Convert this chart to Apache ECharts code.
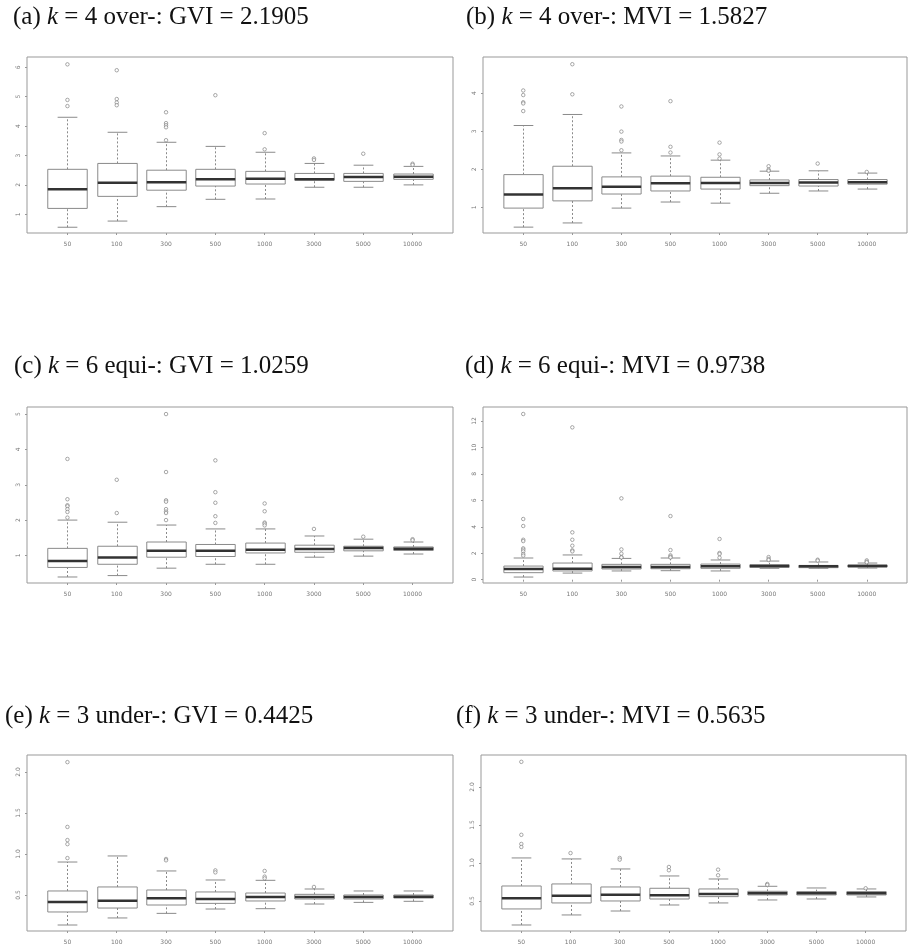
<!DOCTYPE html>
<html>
<head>
<meta charset="utf-8">
<script src="https://cdn.jsdelivr.net/npm/echarts@6/dist/echarts.min.js"></script>
<style>
  html, body { margin: 0; padding: 0; background: #fff; }
  #chart { width: 914px; height: 950px; }
</style>
</head>
<body>
<div id="chart"></div>
<script>
// sample sizes on the x axis
var sizes = ['50', '100', '300', '500', '1000', '3000', '5000', '10000'];

// box stats per size: [lower whisker, Q1, median, Q3, upper whisker]
var gviOverStats = [
  [0.56, 1.20, 1.85, 2.53, 4.30], [0.77, 1.61, 2.07, 2.73, 3.79], [1.26, 1.82, 2.09, 2.50, 3.45], [1.51, 1.96, 2.19, 2.53, 3.31],
  [1.52, 2.03, 2.21, 2.46, 3.11], [1.92, 2.16, 2.19, 2.39, 2.73], [1.92, 2.12, 2.27, 2.39, 2.67], [2.00, 2.19, 2.28, 2.37, 2.63]
];
var gviOverOut = [[6.10, 4.89, 4.68], [5.90, 4.92, 4.80, 4.71], [4.47, 4.10, 4.03, 3.96, 3.52], [5.05], [3.76, 3.21], [2.90, 2.85], [3.06], [2.72, 2.68]];

var mviOverStats = [
  [0.48, 0.98, 1.34, 1.86, 3.15], [0.59, 1.17, 1.50, 2.08, 3.44], [0.98, 1.35, 1.54, 1.80, 2.43], [1.14, 1.43, 1.63, 1.82, 2.35],
  [1.11, 1.48, 1.64, 1.79, 2.24], [1.37, 1.57, 1.64, 1.72, 1.95], [1.43, 1.56, 1.65, 1.73, 1.96], [1.48, 1.61, 1.66, 1.73, 1.90]
];
var mviOverOut = [[4.07, 3.95, 3.76, 3.73, 3.53], [4.76, 3.97], [3.65, 2.99, 2.77, 2.73, 2.50], [3.79, 2.59, 2.44], [2.70, 2.39, 2.28], [2.08, 1.99, 1.96], [2.15], [1.93]];

var gviEquiStats = [
  [0.39, 0.66, 0.84, 1.20, 2.00], [0.43, 0.75, 0.94, 1.26, 1.94], [0.64, 0.95, 1.13, 1.38, 1.86], [0.75, 0.97, 1.13, 1.31, 1.75],
  [0.75, 1.07, 1.16, 1.35, 1.75], [0.95, 1.09, 1.18, 1.29, 1.55], [0.98, 1.13, 1.21, 1.26, 1.46], [1.04, 1.14, 1.19, 1.24, 1.38]
];
var gviEquiOut = [[3.73, 2.59, 2.42, 2.39, 2.31, 2.23, 2.07], [3.14, 2.20], [5.00, 3.36, 2.56, 2.52, 2.31, 2.24, 2.20, 2.00], [3.69, 2.79, 2.49, 2.11, 1.92],
  [2.47, 2.25, 1.93, 1.90, 1.85], [1.75], [1.53], [1.46, 1.43]];

var mviEquiStats = [
  [0.20, 0.53, 0.81, 1.03, 1.64], [0.50, 0.66, 0.83, 1.26, 1.87], [0.66, 0.81, 0.96, 1.16, 1.61], [0.68, 0.83, 0.96, 1.16, 1.64],
  [0.66, 0.86, 1.01, 1.18, 1.49], [0.86, 0.93, 1.03, 1.13, 1.41], [0.86, 0.91, 1.01, 1.08, 1.34], [0.88, 0.96, 1.03, 1.11, 1.26]
];
var mviEquiOut = [[12.53, 4.59, 4.06, 3.02, 2.92, 2.37, 2.27, 2.14, 1.94, 1.82], [11.52, 3.58, 3.02, 2.57, 2.22, 2.14], [6.15, 2.29, 1.97, 1.71, 1.68],
  [4.81, 2.24, 1.84, 1.74, 1.68], [3.08, 2.02, 1.94, 1.66], [1.71, 1.56, 1.49], [1.51, 1.44], [1.46, 1.36, 1.31]];

var gviUnderStats = [
  [0.134, 0.293, 0.415, 0.549, 0.902], [0.220, 0.341, 0.431, 0.598, 0.976], [0.276, 0.378, 0.459, 0.561, 0.793], [0.329, 0.398, 0.451, 0.537, 0.683],
  [0.333, 0.427, 0.476, 0.524, 0.679], [0.390, 0.451, 0.476, 0.508, 0.573], [0.410, 0.451, 0.476, 0.500, 0.549], [0.423, 0.463, 0.480, 0.500, 0.549]
];
var gviUnderOut = [[2.12, 1.33, 1.17, 1.12, 0.95], [], [0.939, 0.923], [0.80, 0.776], [0.793, 0.724, 0.703], [0.598], [], []];

var mviUnderStats = [
  [0.184, 0.395, 0.535, 0.697, 1.066], [0.316, 0.474, 0.570, 0.724, 1.053], [0.368, 0.500, 0.583, 0.684, 0.921], [0.447, 0.526, 0.575, 0.667, 0.829],
  [0.474, 0.557, 0.592, 0.658, 0.789], [0.513, 0.579, 0.601, 0.627, 0.693], [0.526, 0.579, 0.601, 0.623, 0.671], [0.553, 0.579, 0.601, 0.623, 0.658]
];
var mviUnderOut = [[2.33, 1.37, 1.25, 1.21], [1.13], [1.066, 1.044], [0.947, 0.904], [0.912, 0.838], [0.724, 0.711], [], [0.667]];

// y tick labels
var ticksA = [1, 2, 3, 4, 5, 6];
var ticksB = [1, 2, 3, 4];
var ticksC = [1, 2, 3, 4, 5];
var ticksD = [0, 2, 4, 6, 8, 10, 12];
var ticksEF = [0.5, 1.0, 1.5, 2.0];

var titles = [
  ['(a) ', ' = 4 over-: GVI = 2.1905'],
  ['(b) ', ' = 4 over-: MVI = 1.5827'],
  ['(c) ', ' = 6 equi-: GVI = 1.0259'],
  ['(d) ', ' = 6 equi-: MVI = 0.9738'],
  ['(e) ', ' = 3 under-: GVI = 0.4425'],
  ['(f) ', ' = 3 under-: MVI = 0.5635']
];

var panels = [
  { stats: gviOverStats, out: gviOverOut, ticks: ticksA, ymin: 0.364, ymax: 6.35, grid: [27, 57, 426], title: [13, 5] },
  { stats: mviOverStats, out: mviOverOut, ticks: ticksB, ymin: 0.326, ymax: 4.95, grid: [483, 57, 424], title: [466, 5] },
  { stats: gviEquiStats, out: gviEquiOut, ticks: ticksC, ymin: 0.22, ymax: 5.2, grid: [27, 407, 426], title: [14, 354] },
  { stats: mviEquiStats, out: mviEquiOut, ticks: ticksD, ymin: -0.25, ymax: 13.06, grid: [483, 407, 424], title: [465, 354] },
  { stats: gviUnderStats, out: gviUnderOut, ticks: ticksEF, ymin: 0.061, ymax: 2.207, grid: [27, 755, 426], title: [5, 704] },
  { stats: mviUnderStats, out: mviUnderOut, ticks: ticksEF, ymin: 0.105, ymax: 2.42, grid: [481, 755, 425], title: [456, 704] }
];

var serif = 'Liberation Serif';

function renderBox(params, api) {
  var x = api.value(0);
  var lo = api.coord([x, api.value(1)]);
  var q1 = api.coord([x, api.value(2)]);
  var med = api.coord([x, api.value(3)]);
  var q3 = api.coord([x, api.value(4)]);
  var hi = api.coord([x, api.value(5)]);
  var w = api.size([0.8, 0])[0];
  var cx = Math.round(lo[0]) + 0.5;
  var dash = { stroke: '#8a8a8a', lineWidth: 1, lineDash: [2, 2] };
  var solid = { stroke: '#8a8a8a', lineWidth: 1 };
  return {
    type: 'group',
    children: [
      { type: 'line', shape: { x1: cx, y1: q3[1], x2: cx, y2: hi[1] }, style: dash },
      { type: 'line', shape: { x1: cx, y1: lo[1], x2: cx, y2: q1[1] }, style: dash },
      { type: 'line', shape: { x1: cx - w / 4, y1: hi[1], x2: cx + w / 4, y2: hi[1] }, style: solid },
      { type: 'line', shape: { x1: cx - w / 4, y1: lo[1], x2: cx + w / 4, y2: lo[1] }, style: solid },
      { type: 'rect', shape: { x: cx - w / 2, y: q3[1], width: w, height: q1[1] - q3[1] }, style: { fill: '#fff', stroke: '#8a8a8a', lineWidth: 1 } },
      { type: 'line', shape: { x1: cx - w / 2, y1: med[1], x2: cx + w / 2, y2: med[1] }, style: { stroke: '#333', lineWidth: 2.5 } }
    ]
  };
}

var option = { backgroundColor: '#fff', animation: false, title: [], grid: [], xAxis: [], yAxis: [], series: [] };

panels.forEach(function (p, n) {
  option.title.push({
    left: p.title[0], top: p.title[1], padding: 0,
    text: titles[n][0] + '{k|k}' + titles[n][1],
    textStyle: {
      fontFamily: serif, fontSize: 25, fontWeight: 'normal', color: '#111',
      rich: { k: { fontFamily: serif, fontSize: 25, fontStyle: 'italic', color: '#111' } }
    }
  });
  option.grid.push({
    left: p.grid[0], top: p.grid[1], width: p.grid[2], height: 176,
    show: true, borderColor: '#999', borderWidth: 1, backgroundColor: 'transparent'
  });
  option.xAxis.push({
    type: 'value', gridIndex: n, min: 0.18, max: 8.82,
    axisLine: { show: false }, splitLine: { show: false },
    axisTick: { show: true, length: 2, lineStyle: { color: '#999' }, customValues: [1, 2, 3, 4, 5, 6, 7, 8] },
    axisLabel: {
      customValues: [1, 2, 3, 4, 5, 6, 7, 8], fontSize: 6, color: '#777', margin: 8, fontFamily: 'DejaVu Sans',
      formatter: function (v) { return sizes[Math.round(v) - 1]; }
    }
  });
  option.yAxis.push({
    type: 'value', gridIndex: n, min: p.ymin, max: p.ymax,
    axisLine: { show: false }, splitLine: { show: false },
    axisTick: { show: true, length: 2, lineStyle: { color: '#999' }, customValues: p.ticks },
    axisLabel: {
      customValues: p.ticks, fontSize: 6, color: '#777', margin: 6, rotate: 90, fontFamily: 'DejaVu Sans',
      formatter: function (v) { return p.ticks === ticksEF ? v.toFixed(1) : String(v); }
    }
  });
  var boxData = p.stats.map(function (s, i) { return [i + 1].concat(s); });
  var outData = [];
  p.out.forEach(function (list, i) {
    list.forEach(function (v) { outData.push([i + 1, v]); });
  });
  option.series.push({
    type: 'custom', xAxisIndex: n, yAxisIndex: n, renderItem: renderBox,
    encode: { x: 0, y: [1, 2, 3, 4, 5] }, data: boxData
  });
  option.series.push({
    type: 'scatter', xAxisIndex: n, yAxisIndex: n, symbol: 'circle', symbolSize: 3.5,
    itemStyle: { color: '#fff', borderColor: '#777', borderWidth: 0.8 }, data: outData, z: 3
  });
});

var myChart = echarts.init(document.getElementById('chart'));
myChart.setOption(option);
</script>
</body>
</html>
